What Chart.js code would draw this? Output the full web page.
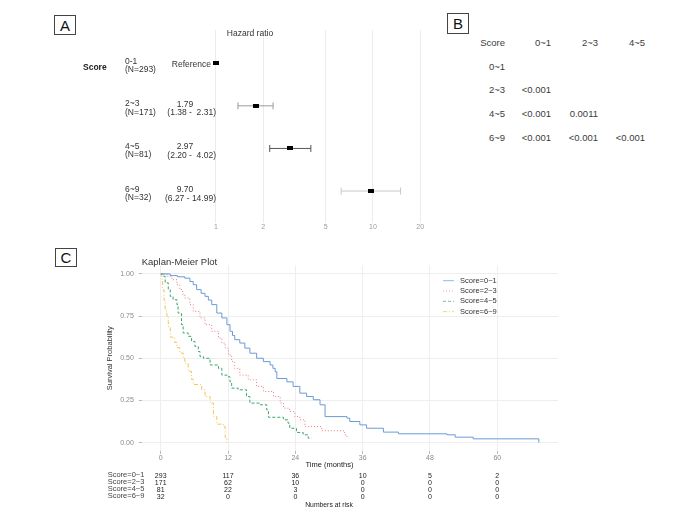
<!DOCTYPE html>
<html>
<head>
<meta charset="utf-8">
<script src="https://cdn.jsdelivr.net/npm/chart.js@4.4.0/dist/chart.umd.min.js"></script>
<style>
  html, body { margin: 0; padding: 0; background: #fff; }
  #page { position: relative; width: 697px; height: 518px; overflow: hidden;
          font-family: "Liberation Sans", Arial, sans-serif; color: #222; }
  canvas { position: absolute; }
  .t { position: absolute; white-space: pre; line-height: 1; }
  .box { position: absolute; border: 1px solid #444; font-size: 15px; text-align: center;
         font-family: "Liberation Sans", Arial, sans-serif; color: #111; }
</style>
</head>
<body>
<div id="page">
  <div class="box" style="left:54px;top:15px;width:20px;height:18px;line-height:19px">A</div>
  <div class="box" style="left:447px;top:13px;width:20px;height:19px;line-height:20px">B</div>
  <div class="box" style="left:55px;top:248px;width:20px;height:17px;line-height:18px">C</div>
  <canvas id="forest" width="260" height="220" style="left:190px;top:20px"></canvas>
  <canvas id="km" width="480" height="210" style="left:90px;top:255px"></canvas>
</div>
<script>
// -------------------------
// Data: panel A (hazard ratios)
// -------------------------
const forestGroups = ["0-1", "2~3", "4~5", "6~9"];
const forestN = ["(N=293)", "(N=171)", "(N=81)", "(N=32)"];
const hrEst = [1, 1.79, 2.97, 9.70];
const hrLow = [null, 1.38, 2.20, 6.27];
const hrHigh = [null, 2.31, 4.02, 14.99];
const hrTicks = [1, 2, 5, 10, 20];
const ciColors = [null, "#9a9a9a", "#555555", "#c8c8c8"];

// -------------------------
// Data: panel B (pairwise p values)
// -------------------------
const pairCols = ["0~1", "2~3", "4~5"];
const pairRows = ["0~1", "2~3", "4~5", "6~9"];
const pairVals = [
  ["", "", ""],
  ["<0.001", "", ""],
  ["<0.001", "0.0011", ""],
  ["<0.001", "<0.001", "<0.001"]
];

// -------------------------
// Data: panel C (Kaplan-Meier steps: time in months, survival after the drop)
// -------------------------
const kmNames = ["Score=0~1", "Score=2~3", "Score=4~5", "Score=6~9"];
const kmColors = ["#6b9bd6", "#e67e80", "#3aa56c", "#ecc75a"];
const kmDashes = [[], [1, 2], [3, 2], [4, 2, 1, 2]];

const time01 = [0, 1.7, 3.0, 4.3, 5.2, 5.8, 6.4, 7.2, 7.9, 8.5, 9.1, 10.0, 10.9, 11.8, 12.35, 12.8, 13.2, 14.1, 15.0, 15.9, 17.1, 18.3, 19.5, 20.0, 20.4, 20.7, 22.5, 23.6, 24.8, 26.0, 27.2, 28.4, 29.3, 33.2, 33.7, 35.5, 36.7, 39.7, 42.4, 51.0, 52.5, 55.7, 67.4];
const surv01 = [1, 0.99, 0.983, 0.975, 0.955, 0.936, 0.907, 0.885, 0.867, 0.845, 0.818, 0.768, 0.739, 0.699, 0.66, 0.635, 0.61, 0.59, 0.56, 0.53, 0.50, 0.48, 0.46, 0.44, 0.42, 0.38, 0.36, 0.333, 0.293, 0.273, 0.254, 0.224, 0.154, 0.145, 0.125, 0.105, 0.085, 0.062, 0.052, 0.046, 0.032, 0.022, 0.0];

const time23 = [0, 1.1, 2.0, 2.9, 3.4, 3.9, 4.3, 5.2, 5.8, 7.0, 7.9, 9.1, 10.3, 10.9, 11.5, 12.05, 12.65, 13.2, 14.1, 15.6, 17.1, 18.3, 20.1, 21.3, 21.9, 23.0, 23.9, 24.8, 25.7, 28.7, 32.8, 33.2];
const surv23 = [1, 0.986, 0.966, 0.936, 0.907, 0.88, 0.857, 0.818, 0.778, 0.739, 0.699, 0.66, 0.62, 0.59, 0.56, 0.52, 0.48, 0.44, 0.40, 0.372, 0.333, 0.303, 0.273, 0.234, 0.204, 0.184, 0.154, 0.135, 0.095, 0.07, 0.046, 0.023];

const time45 = [0, 0.5, 0.8, 1.35, 1.7, 2.2, 2.9, 3.1, 3.7, 4.0, 4.9, 5.5, 6.1, 6.7, 7.0, 7.6, 8.8, 10.3, 10.9, 11.8, 12.35, 12.65, 13.8, 15.3, 15.9, 17.7, 18.9, 19.2, 21.9, 22.7, 23.0, 24.2, 25.4, 26.3, 26.9];
const surv45 = [1, 0.986, 0.947, 0.907, 0.867, 0.847, 0.818, 0.768, 0.699, 0.65, 0.63, 0.60, 0.57, 0.54, 0.51, 0.50, 0.46, 0.44, 0.40, 0.39, 0.36, 0.323, 0.313, 0.273, 0.234, 0.224, 0.194, 0.15, 0.135, 0.115, 0.085, 0.06, 0.046, 0.026, 0.026];

const time69 = [0, 0.2, 0.35, 0.6, 0.8, 1.1, 1.35, 1.7, 2.5, 2.9, 3.4, 4.0, 4.3, 4.9, 5.5, 5.8, 7.3, 7.9, 8.8, 9.4, 10.0, 11.2, 11.5, 11.8];
const surv69 = [1, 0.969, 0.906, 0.844, 0.781, 0.75, 0.688, 0.625, 0.594, 0.563, 0.531, 0.5, 0.469, 0.422, 0.375, 0.344, 0.313, 0.273, 0.234, 0.156, 0.109, 0.094, 0.031, 0];

const kmTimes = [time01, time23, time45, time69];
const kmSurv = [surv01, surv23, surv45, surv69];

const xTickValues = [0, 12, 24, 36, 48, 60];
const yTickValues = [0, 0.25, 0.5, 0.75, 1];

// numbers at risk at each x tick
const riskTimes = [0, 12, 24, 36, 48, 60];
const risk01 = [293, 117, 36, 10, 5, 2];
const risk23 = [171, 62, 10, 0, 0, 0];
const risk45 = [81, 22, 3, 0, 0, 0];
const risk69 = [32, 0, 0, 0, 0, 0];
const riskRows = [risk01, risk23, risk45, risk69];

// -------------------------
// Helpers
// -------------------------
Chart.defaults.font.family = '"Liberation Sans", Arial, sans-serif';
const page = document.getElementById("page");

function addText(txt, x, y, o = {}) {
  const d = document.createElement("div");
  d.className = "t";
  d.textContent = txt;
  d.style.left = x + "px";
  d.style.top = y + "px";
  d.style.fontSize = (o.size || 8) + "px";
  if (o.bold) d.style.fontWeight = "bold";
  if (o.color) d.style.color = o.color;
  const ax = o.align === "center" ? "-50%" : o.align === "right" ? "-100%" : "0";
  d.style.transform = `translate(${ax}, -50%)` + (o.rotate ? ` rotate(${o.rotate}deg)` : "");
  page.appendChild(d);
}

// small black box used as the hazard ratio marker
const boxImg = document.createElement("canvas");
boxImg.width = 6; boxImg.height = 4;
boxImg.getContext("2d").fillRect(0, 0, 6, 4);

// -------------------------
// Panel A: forest plot
// -------------------------
const ciSets = [];
for (let i = 1; i < hrEst.length; i++) {
  ciSets.push({
    data: [{ x: hrLow[i], y: i }, { x: hrHigh[i], y: i }],
    showLine: true,
    borderColor: ciColors[i],
    borderWidth: 1,
    pointStyle: "line",
    rotation: 90,
    pointRadius: 3.5,
    pointBorderColor: ciColors[i],
    pointBorderWidth: 1
  });
}

const forest = new Chart(document.getElementById("forest"), {
  type: "scatter",
  data: {
    datasets: [{
      data: hrEst.map((v, i) => ({ x: v, y: i })),
      pointStyle: boxImg,
      pointRadius: 3
    }, ...ciSets]
  },
  options: {
    responsive: false,
    animation: false,
    layout: { padding: { left: 10, right: 15, top: 10, bottom: 0 } },
    plugins: { legend: { display: false }, tooltip: { enabled: false } },
    scales: {
      x: {
        type: "logarithmic",
        min: 0.791,
        max: 24.83,
        afterBuildTicks: s => { s.ticks = hrTicks.map(v => ({ value: v })); },
        afterFit: s => { s.height = 17; },
        ticks: { color: "#999", font: { size: 7 }, padding: 0, autoSkip: false, maxRotation: 0,
                 callback: v => String(v) },
        grid: { color: "#ececec", drawTicks: false },
        border: { display: false }
      },
      y: { type: "linear", display: false, reverse: true, min: -0.78, max: 3.75 }
    }
  }
});

const fy = forest.scales.y;
addText("Hazard ratio", 250, 32.5, { size: 8.5, align: "center", color: "#333" });
addText("Score", 83, 20 + fy.getPixelForValue(0) + 3.5, { size: 8.5, bold: true });
forestGroups.forEach((g, i) => {
  const ry = 20 + fy.getPixelForValue(i);
  addText(g, 125, ry - 2.5, { size: 8.5, color: "#333" });
  addText(forestN[i], 125, ry + 6, { size: 8.5, color: "#333" });
  if (hrLow[i] === null) {
    addText("Reference", 211, ry + 1, { size: 8.5, align: "right", color: "#333" });
  } else {
    addText(hrEst[i].toFixed(2), 185, ry - 2, { size: 8.5, align: "center", color: "#333" });
    addText(`(${hrLow[i].toFixed(2)} - ${hrHigh[i].toFixed(2).padStart(5)})`, 216, ry + 6.5, { size: 8.5, align: "right", color: "#333" });
  }
});

// -------------------------
// Panel B: table
// -------------------------
const colRight = [551, 598, 645];
const rowYs = [66.7, 90, 114, 138];
const tblColor = "#3c3c3c";
addText("Score", 505, 42.7, { size: 9.5, align: "right", color: tblColor });
pairCols.forEach((c, j) => addText(c, colRight[j], 42.7, { size: 9.5, align: "right", color: tblColor }));
pairRows.forEach((r, i) => {
  addText(r, 505, rowYs[i], { size: 9.5, align: "right", color: tblColor });
  pairVals[i].forEach((v, j) => { if (v) addText(v, colRight[j], rowYs[i], { size: 9.5, align: "right", color: tblColor }); });
});

// -------------------------
// Panel C: Kaplan-Meier
// -------------------------
const legendSwatches = {
  id: "legendSwatches",
  afterDatasetsDraw(chart) {
    const ctx = chart.ctx;
    chart.data.datasets.forEach((ds, i) => {
      const y = 25.7 + i * 10.3;
      ctx.save();
      ctx.strokeStyle = ds.borderColor;
      ctx.globalAlpha = 0.7;
      ctx.lineWidth = 1;
      ctx.setLineDash(ds.borderDash);
      ctx.beginPath();
      ctx.moveTo(353, y);
      ctx.lineTo(364, y);
      ctx.stroke();
      ctx.restore();
    });
  }
};

const km = new Chart(document.getElementById("km"), {
  type: "line",
  data: {
    datasets: kmNames.map((n, k) => ({
      label: n,
      data: kmTimes[k].map((t, i) => ({ x: t, y: kmSurv[k][i] })),
      stepped: "before",
      borderColor: kmColors[k],
      borderDash: kmDashes[k],
      borderWidth: 1,
      pointRadius: 0,
      fill: false
    }))
  },
  options: {
    responsive: false,
    animation: false,
    layout: { padding: { left: 11, right: 12, top: 10.5, bottom: 0 } },
    plugins: { legend: { display: false }, tooltip: { enabled: false } },
    scales: {
      x: {
        type: "linear",
        min: -3.37,
        max: 70.82,
        afterBuildTicks: s => { s.ticks = xTickValues.map(v => ({ value: v })); },
        afterFit: s => { s.height = 14; },
        ticks: { color: "#8a8a8a", font: { size: 7 }, padding: 0, autoSkip: false, maxRotation: 0 },
        grid: { color: "#eeeeee", tickColor: "#bbbbbb", tickLength: 3 },
        border: { display: false }
      },
      y: {
        type: "linear",
        min: -0.05,
        max: 1.05,
        afterBuildTicks: s => { s.ticks = yTickValues.map(v => ({ value: v })); },
        afterFit: s => { s.width = 40.8; },
        ticks: { color: "#8a8a8a", font: { size: 7 }, padding: 5, callback: v => v.toFixed(2) },
        grid: { color: "#eeeeee", tickColor: "#bbbbbb", tickLength: 3 },
        border: { display: false },
        title: { display: true, text: "Survival Probability", color: "#333", font: { size: 7.5 } }
      }
    }
  },
  plugins: [legendSwatches]
});

addText("Kaplan-Meier Plot", 141.7, 261.7, { size: 9.5, color: "#333" });
kmNames.forEach((n, i) => addText(n, 460, 280.7 + i * 10.3, { size: 7.5, color: "#333" }));
addText("Time (months)", 329.5, 465.3, { size: 7.5, color: "#222", align: "center" });

const kx = km.scales.x;
kmNames.forEach((n, i) => {
  const ry = 475 + i * 6.9;
  addText(n, 107.7, ry, { size: 7.5, color: "#444" });
  riskTimes.forEach((t, j) => {
    addText(String(riskRows[i][j]), 90 + kx.getPixelForValue(t), ry, { size: 7, align: "center", color: "#222" });
  });
});
addText("Numbers at risk", 329, 505, { size: 6.8, color: "#222", align: "center" });
</script>
</body>
</html>
